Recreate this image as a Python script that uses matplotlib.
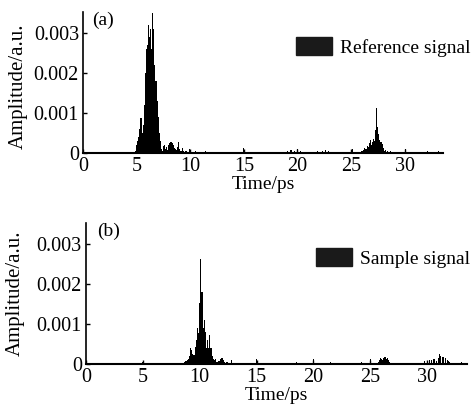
import numpy as np
import matplotlib
matplotlib.use('Agg')
import matplotlib.pyplot as plt
from matplotlib.patches import Patch

plt.rcParams['font.family'] = ['Liberation Serif', 'DejaVu Serif']
plt.rcParams['font.size'] = 14

# reference signal (time in ps, amplitude in a.u.)
ref_t = [4.9, 5.0, 5.1, 5.2, 5.3, 5.4, 5.5, 5.6, 5.7, 5.8, 5.9, 6.0, 6.1, 6.2,
         6.3, 6.4, 6.5, 6.6, 6.7, 6.8, 6.9, 7.0, 7.1, 7.2, 7.3, 7.4, 7.5, 7.6,
         7.7, 7.8, 7.9, 8.0, 8.1, 8.2, 8.3, 8.4, 8.5, 8.6, 8.7, 8.8, 8.9, 9.0,
         9.1, 9.2, 9.3, 9.4, 9.5, 9.6, 9.7, 9.8, 9.9, 10.0, 10.5, 11.4, 12.0,
         13.2, 15.0, 16.5, 17.8, 19.1, 19.4, 19.7, 20.0, 20.3, 21.2, 21.9,
         22.3, 22.6, 22.9, 24.0, 25.1,
         26.0, 26.1, 26.2, 26.3, 26.4, 26.5, 26.6, 26.7, 26.8, 26.9, 27.0,
         27.1, 27.2, 27.3, 27.4, 27.5, 27.6, 27.7, 27.8, 27.9, 28.0, 28.1,
         28.2, 28.4, 28.7, 29.0, 30.1, 31.0, 32.1, 33.2]
ref_amp = [0.00005, 0.0002, 0.0003, 0.0004, 0.0006, 0.00088, 0.0005, 0.0007,
           0.0012, 0.0020, 0.0026, 0.0027, 0.0032, 0.0029, 0.0031, 0.0026,
           0.0035, 0.0031, 0.0022, 0.0018, 0.0013, 0.0009, 0.0005, 0.0003,
           0.0001, 0.00005, 0.00018, 0.0002, 0.0001, 0.00015, 0.00008,
           0.0002, 0.00025, 0.00028, 0.00025, 0.0002, 0.00012, 0.0001,
           0.00008, 0.00015, 0.00028, 0.0001, 0.00005, 0.00006, 0.00012,
           0.00004, 0.00003, 0.00005, 0.00003, 0.00002, 0.00009, 0.00003,
           0.00004, 0.00005, 0.00003,
           0.00003, 0.00012, 0.00003, 0.00003, 0.00006, 0.00008, 0.00005,
           0.0001, 0.00005, 0.00003, 0.00006,
           0.00005, 0.00008, 0.00005, 0.00003, 0.00011,
           0.00004, 0.00006, 0.00008, 0.00012, 0.0001, 0.00018, 0.00015,
           0.00025, 0.00032, 0.0002, 0.00028, 0.00036, 0.0003, 0.00057,
           0.00112, 0.00065, 0.00048, 0.00032, 0.00027, 0.00022, 0.00012,
           0.00006, 0.00007, 0.00004, 0.00005, 0.00003, 0.0001, 0.00003,
           0.00005, 0.00004]

# sample signal
smp_t = [1.5, 3.0, 5.0, 6.5, 8.7, 8.8, 8.9, 9.0, 9.1, 9.2, 9.3, 9.4, 9.5, 9.6,
         9.7, 9.8, 9.9, 10.0, 10.1, 10.2, 10.3, 10.4, 10.5, 10.6, 10.7, 10.8,
         10.9, 11.0, 11.1, 11.2, 11.3, 11.4, 11.5, 11.6, 11.7, 11.8, 11.9,
         12.0, 12.1, 12.2, 12.4, 12.8, 13.5, 15.0, 16.8, 18.5, 20.0, 21.5,
         23.0, 24.2, 25.0, 25.7, 25.8, 25.9, 26.0, 26.1, 26.2, 26.3, 26.4,
         26.5, 26.6, 26.7, 28.0, 29.0, 29.8, 30.0, 30.2, 30.4, 30.6, 30.8,
         31.0, 31.1, 31.2, 31.4, 31.6, 31.8, 31.9, 32.0, 33.0]
smp_amp = [0.00003, 0.00003, 0.00005, 0.00003, 0.00004, 0.00008, 0.0001,
           0.00012, 0.0002, 0.00039, 0.00036, 0.00026, 0.00022, 0.00042,
           0.0006, 0.0009, 0.00077, 0.00153, 0.00262, 0.0018, 0.0009,
           0.00111, 0.0008, 0.0004, 0.0006, 0.0004, 0.00073, 0.0004,
           0.00019, 0.00012, 0.0001, 0.00012, 0.00006, 0.00005, 0.00008,
           0.00012, 0.00014, 0.00015, 0.0001, 0.00006, 0.00004, 0.0001,
           0.00003, 0.00012, 0.00003, 0.00004, 0.00012, 0.00004, 0.00003,
           0.00004, 0.00012, 0.00005, 0.0001, 0.00014, 0.00012, 0.0001,
           0.00015, 0.00018, 0.00012, 0.00014, 0.0001, 0.00005, 0.00003,
           0.00003, 0.00008, 0.00006, 0.0001, 0.0001, 0.00012, 0.00008,
           0.00015, 0.00025, 0.0002, 0.00017, 0.00014, 0.0001, 0.00008,
           0.00004, 0.00004]

yticks = [0, 0.001, 0.002, 0.003]
ytick_labels = ['0', '0.001', '0.002', '0.003']
xticks = [0, 5, 10, 15, 20, 25, 30]


def style_axes(ax, xmax, ylab_xy):
    ax.spines['top'].set_visible(False)
    ax.spines['right'].set_visible(False)
    ax.spines['left'].set_linewidth(1.2)
    ax.spines['bottom'].set_linewidth(1.5)
    ax.set_xlim(0, xmax)
    ax.set_ylim(0, 0.00352)
    ax.set_xticks(xticks)
    ax.set_yticks(yticks)
    ax.set_yticklabels(ytick_labels)
    ax.tick_params(direction='in', length=3, width=1, labelsize=14.5)
    ax.tick_params(axis='y', pad=3)
    ax.tick_params(axis='x', pad=3)
    ax.set_xlabel('Time/ps', labelpad=0, fontsize=14)
    ax.set_ylabel('Amplitude/a.u.', fontsize=15)
    ax.yaxis.set_label_coords(*ylab_xy)


fig = plt.figure(figsize=(4.75, 4.08), dpi=100)
ax1 = fig.add_axes([0.175, 0.625, 0.758, 0.346])
ax2 = fig.add_axes([0.181, 0.108, 0.802, 0.345])

ax1.bar(ref_t, ref_amp, width=0.1, color='black', linewidth=0)
ax2.bar(smp_t, smp_amp, width=0.1, color='black', linewidth=0)

style_axes(ax1, 33.6, (-0.155, 0.47))
style_axes(ax2, 33.5, (-0.16, 0.5))

ax1.text(0.025, 1.0, '(a)', transform=ax1.transAxes, va='top', ha='left')
ax2.text(0.028, 1.0, '(b)', transform=ax2.transAxes, va='top', ha='left')

for ax, lab, ypos in [(ax1, 'Reference signal', 0.885), (ax2, 'Sample signal', 0.368)]:
    h = Patch(facecolor='#1a1a1a', edgecolor='#1a1a1a')
    ax.legend([h], [lab], loc='center right', bbox_to_anchor=(470 / 475, ypos),
              bbox_transform=fig.transFigure, frameon=False, borderpad=0,
              borderaxespad=0, handlelength=1.85, handleheight=1.0,
              handletextpad=0.4, fontsize=14)

fig.savefig('out.png', dpi=100)
